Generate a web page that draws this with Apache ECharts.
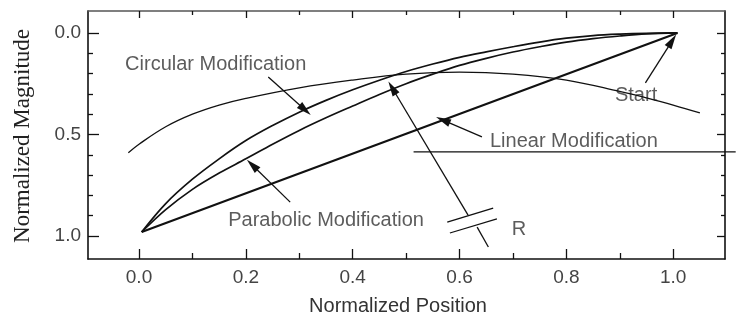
<!DOCTYPE html>
<html>
<head>
<meta charset="utf-8">
<script src="https://cdn.jsdelivr.net/npm/echarts@6/dist/echarts.min.js"></script>
<style>html,body{margin:0;padding:0;background:#fff}#c{width:736px;height:321px}</style>
</head>
<body>
<div id="c"></div>
<script>
// ---- data ----
const xMajor = [0, 0.2, 0.4, 0.6, 0.8, 1.0];
const xMinor = [0.1, 0.3, 0.5, 0.7, 0.9];
const yMajor = [0, 0.5, 1.0];
const yMinor = [0.1, 0.2, 0.3, 0.4, 0.6, 0.7, 0.8, 0.9];

const linearX = [0.005, 1.008];
const linearY = [0.98, 0.0];

const curveX     = [0.005, 0.05, 0.1, 0.15, 0.2, 0.25, 0.3, 0.35, 0.4, 0.45, 0.5, 0.55, 0.6, 0.65, 0.7, 0.75, 0.8, 0.85, 0.9, 0.95, 1.008];
const circularY  = [0.98, 0.84, 0.72, 0.62, 0.53, 0.456, 0.39, 0.332, 0.28, 0.233, 0.19, 0.153, 0.12, 0.093, 0.068, 0.045, 0.026, 0.013, 0.006, 0.002, 0.0];
const parabolicY = [0.98, 0.87, 0.77, 0.69, 0.62, 0.548, 0.48, 0.418, 0.36, 0.303, 0.25, 0.203, 0.16, 0.125, 0.094, 0.068, 0.045, 0.028, 0.015, 0.005, 0.0];

const arcX = [-0.02, 0.0, 0.05, 0.1, 0.15, 0.2, 0.3, 0.4, 0.5, 0.6, 0.7, 0.8, 0.9, 0.95, 1.0, 1.05];
const arcY = [0.59, 0.548, 0.462, 0.40, 0.355, 0.322, 0.27, 0.232, 0.203, 0.193, 0.203, 0.232, 0.288, 0.32, 0.355, 0.394];

// annotation arrows: [tail, tip]
const arrows = [
  [[0.242, 0.217], [0.311, 0.379]],   // Circular Modification
  [[0.642, 0.512], [0.569, 0.429]],   // Linear Modification
  [[0.283, 0.833], [0.212, 0.650]],   // Parabolic Modification
  [[0.948, 0.246], [0.998, 0.039]],   // Start
  [[0.616, 0.897], [0.474, 0.271]]    // R
];
// plain annotation segments
const leaderLine = [[0.514, 0.586], [1.117, 0.586]];
const segments = [
  [[0.633, 0.956], [0.654, 1.054]],
  [[0.577, 0.931], [0.663, 0.862]],
  [[0.582, 0.985], [0.670, 0.916]]
];
const noteText = ['Circular Modification', 'Linear Modification', 'Parabolic Modification', 'Start', 'R'];
const noteX = [-0.026, 0.657, 0.167, 0.891, 0.698];
const noteY = [0.153, 0.532, 0.921, 0.310, 0.970];

// ---- chart ----
const SANS = '"Liberation Sans", Arial, sans-serif';
const INK = '#111';
const XMIN = -0.0955, XMAX = 1.097, YMIN = -0.108, YMAX = 1.113;
const XMAX_WIDE = XMIN + (XMAX - XMIN) * 648 / 637;

function xAx(pos, ticks, len, showLine, labels) {
  return {
    type: 'value', gridIndex: 0, position: pos, min: XMIN, max: XMAX,
    axisLine: {show: showLine, onZero: false, lineStyle: {color: pos === 'top' ? '#555' : INK, width: 1.6}},
    axisTick: {show: true, inside: true, length: len, customValues: ticks, lineStyle: {color: INK, width: 1.3}},
    axisLabel: labels ? {show: true, customValues: ticks, formatter: v => v.toFixed(1), fontSize: 19,
      color: '#444', fontFamily: SANS, margin: 9} : {show: false},
    splitLine: {show: false}
  };
}
function yAx(pos, ticks, len, showLine, labels) {
  return {
    type: 'value', gridIndex: 0, position: pos, min: YMIN, max: YMAX, inverse: true,
    axisLine: {show: showLine, onZero: false, lineStyle: {color: INK, width: 1.6}},
    axisTick: {show: true, inside: true, length: len, customValues: ticks, lineStyle: {color: INK, width: 1.3}},
    axisLabel: labels ? {show: true, customValues: ticks, formatter: v => v.toFixed(1), fontSize: 19,
      color: '#444', fontFamily: SANS, margin: 7} : {show: false},
    splitLine: {show: false}
  };
}

function zip(xs, ys) { return xs.map((x, i) => [x, ys[i]]); }
function curve(xs, ys, w, sm) {
  return {type: 'line', xAxisIndex: 0, yAxisIndex: 0, data: zip(xs, ys), smooth: sm,
    showSymbol: false, symbol: 'none', clip: false, silent: true,
    lineStyle: {color: INK, width: w}};
}

const series = [
  curve(linearX, linearY, 2.2, false),
  curve(curveX, circularY, 1.7, 0.35),
  curve(curveX, parabolicY, 1.7, 0.35),
  curve(arcX, arcY, 1.3, 0.4)
];
segments.forEach(s => series.push({
  type: 'line', xAxisIndex: 0, yAxisIndex: 0, data: s, showSymbol: false, symbol: 'none',
  clip: false, silent: true, lineStyle: {color: INK, width: 1.3}
}));
// leader line runs past the plot frame to the picture edge: drawn on a wider overlay grid
series.push({
  type: 'line', xAxisIndex: 4, yAxisIndex: 4, data: leaderLine, showSymbol: false, symbol: 'none',
  clip: false, silent: true, lineStyle: {color: INK, width: 1.3}
});
series.push({
  type: 'line', xAxisIndex: 0, yAxisIndex: 0, data: [], silent: true,
  markLine: {
    silent: true, symbol: ['none', 'triangle'], symbolSize: [8, 15], precision: 4,
    lineStyle: {color: INK, width: 1.3, type: 'solid'}, label: {show: false},
    emphasis: {disabled: true},
    data: arrows.map(a => [{coord: a[0]}, {coord: a[1]}])
  }
});
series.push({
  type: 'scatter', xAxisIndex: 0, yAxisIndex: 0, symbolSize: 0, silent: true,
  data: noteX.map((x, i) => ({value: [x, noteY[i]], name: noteText[i]})),
  label: {show: true, position: 'right', distance: 0, formatter: p => p.name,
    fontSize: 20, color: '#333', fontFamily: SANS, align: 'left', verticalAlign: 'middle'}
});

const chart = echarts.init(document.getElementById('c'), null, {renderer: 'canvas'});
chart.setOption({
  animation: false,
  backgroundColor: '#fff',
  grid: [
    {left: 88, right: 11, top: 11, bottom: 62, containLabel: false},
    {left: 88, right: 0, top: 11, bottom: 62, containLabel: false}
  ],
  xAxis: [
    xAx('bottom', xMajor, 10, true, true),
    xAx('bottom', xMinor, 6, false, false),
    xAx('top', xMajor, 7, true, false),
    xAx('top', xMinor, 4, false, false),
    {type: 'value', gridIndex: 1, min: XMIN, max: XMAX_WIDE, show: false}
  ],
  yAxis: [
    yAx('left', yMajor, 11, true, true),
    yAx('left', yMinor, 5, false, false),
    yAx('right', yMajor, 8, true, false),
    yAx('right', yMinor, 4, false, false),
    {type: 'value', gridIndex: 1, min: YMIN, max: YMAX, inverse: true, show: false}
  ],
  graphic: [
    {type: 'text', x: 398, y: 306, silent: true,
     style: {text: 'Normalized Position', font: '20px "Liberation Sans", Arial, sans-serif', fill: '#333',
       align: 'center', verticalAlign: 'middle'}},
    {type: 'text', x: 23, y: 136, rotation: Math.PI / 2, silent: true,
     style: {text: 'Normalized Magnitude', font: '23px "Liberation Serif", "Times New Roman", serif', fill: '#222',
       align: 'center', verticalAlign: 'middle'}}
  ],
  series: series
});
</script>
</body>
</html>
